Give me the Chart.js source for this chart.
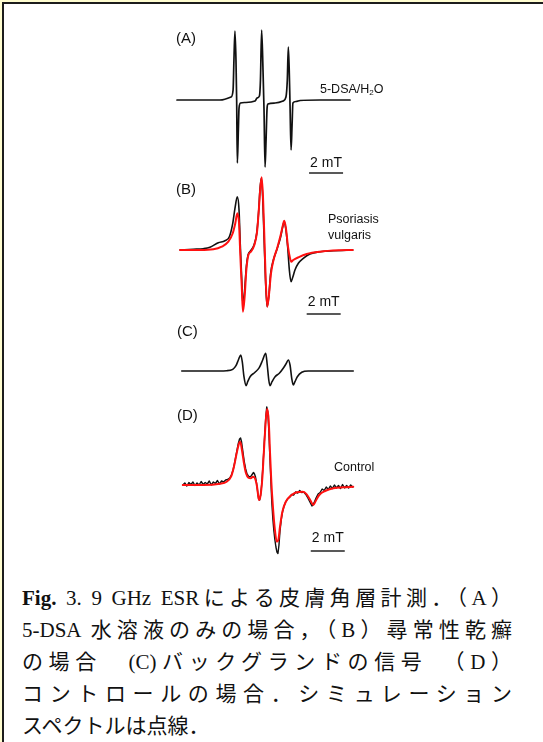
<!DOCTYPE html>
<html lang="ja">
<head>
<meta charset="utf-8">
<title>9 GHz ESR spectra of stratum corneum</title>
<script src="https://cdn.jsdelivr.net/npm/chart.js@4.4.1/dist/chart.umd.min.js"></script>
<style>
  html, body { margin: 0; padding: 0; background: #fffdd0; width: 543px; height: 742px; overflow: hidden; }
  #frame { position: absolute; left: 2px; top: 2px; width: 541px; height: 740px; background: #fff;
           border-top: 2px solid #1c1c1c; border-left: 2px solid #1c1c1c; box-sizing: border-box; }
  canvas { position: absolute; }
  .lbl { position: absolute; font-family: "Liberation Sans", Arial, sans-serif; color: #111; white-space: nowrap; }
  .panel { font-size: 15px; line-height: 18px; }
  .tag { font-size: 12.5px; line-height: 15px; }
  .tag sub { font-size: 8px; vertical-align: -2px; line-height: 0; }
  #caption { position: absolute; left: 22px; top: 582px; width: 490px; color: #111;
             font-family: "Liberation Serif", "Noto Sans CJK JP", serif; font-size: 21px; line-height: 32px; }
  #caption .j { text-align: justify; text-align-last: justify; white-space: nowrap; }
  #caption .l { text-align: left; }
  .fig { font-weight: bold; }
</style>
</head>
<body>
<div id="frame"></div>

<canvas id="chartA" width="240" height="160" style="left:160px;top:20px"></canvas>
<canvas id="chartB" width="240" height="150" style="left:160px;top:170px"></canvas>
<canvas id="chartC" width="240" height="60"  style="left:160px;top:340px"></canvas>
<canvas id="chartD" width="240" height="160" style="left:160px;top:400px"></canvas>

<div class="lbl panel" style="left:176px;top:29px">(A)</div>
<div class="lbl panel" style="left:176px;top:180px">(B)</div>
<div class="lbl panel" style="left:177px;top:322px">(C)</div>
<div class="lbl panel" style="left:177px;top:406px">(D)</div>

<div class="lbl tag" style="left:320px;top:82px">5-DSA/H<sub>2</sub>O</div>
<div class="lbl tag" style="left:328px;top:211px;line-height:16px">Psoriasis<br>vulgaris</div>
<div class="lbl tag" style="left:334px;top:460px">Control</div>

<div id="caption">
  <div class="j"><span class="fig">Fig.</span> 3. 9 GHz ESRによる皮膚角層計測．（A）</div>
  <div class="j">5-DSA 水溶液のみの場合，（B）尋常性乾癬</div>
  <div class="j">の場合　(C)バックグランドの信号　（D）</div>
  <div class="j">コントロールの場合．シミュレーション</div>
  <div class="l">スペクトルは点線．</div>
</div>

<script>
// Magnetic field offset (mT) and first-derivative ESR intensity (a.u.)

// (A) 5-DSA in water
const fieldA = [-5.06,-3.71,-2.53,-1.88,-1.76,-1.71,-1.65,-1.59,-1.55,-1.51,-1.45,-1.41,-1.32,-1.06,-0.47,-0.35,-0.21,-0.15,-0.08,0,0.06,0.12,0.18,0.24,0.29,0.71,1.18,1.35,1.43,1.49,1.55,1.59,1.65,1.71,1.76,1.94,2.18,3.35,5.12];
const esrA   = [0,0,0,0.3,1.0,4.0,6.9,4.0,0,-6.3,-3.0,-0.8,-0.3,-0.25,-0.1,0.2,0.4,2.0,7.0,3.0,-1.0,-6.7,-4.0,-0.8,-0.4,-0.3,-0.1,0.3,2.0,5.3,2.5,-0.5,-5.0,-2.5,-0.3,-0.15,-0.05,0,0];

// (B) psoriasis vulgaris: measured
const fieldB = [-4.88,-4.10,-3.51,-3.12,-2.63,-2.24,-1.98,-1.78,-1.65,-1.51,-1.41,-1.34,-1.25,-1.18,-1.08,-0.98,-0.88,-0.72,-0.53,-0.37,-0.25,-0.18,-0.10,-0.02,0.06,0.14,0.24,0.34,0.45,0.61,0.84,1.04,1.16,1.25,1.35,1.45,1.55,1.65,1.75,1.88,2.08,2.37,2.76,3.35,4.14,5.28];
const esrB   = [0,0.07,0.13,0.27,0.73,0.93,1.33,2.67,4.17,5.33,4.0,0.67,-3.0,-5.5,-4.0,-1.67,-0.5,-0.07,0.5,1.67,4.0,6.0,7.17,5.33,1.33,-2.67,-5.67,-4.67,-2.33,-1.0,0.17,1.33,2.33,2.83,2.0,0.33,-2.0,-3.17,-2.73,-2.0,-1.33,-0.83,-0.4,-0.17,-0.07,0];

// (B) psoriasis vulgaris: simulation
const fieldBsim = [-4.88,-3.71,-2.92,-2.43,-2.04,-1.78,-1.63,-1.51,-1.41,-1.34,-1.25,-1.18,-1.08,-0.98,-0.86,-0.71,-0.51,-0.35,-0.24,-0.16,-0.08,0,0.08,0.16,0.25,0.35,0.47,0.63,0.84,1.04,1.16,1.25,1.35,1.47,1.59,1.66,1.78,2.08,2.57,3.35,4.53,5.28];
const esrBsim   = [0,0,0.07,0.33,0.83,1.67,2.67,3.67,2.67,-0.33,-3.67,-6.17,-4.67,-2.0,-0.5,-0.17,0.5,1.83,4.17,6.17,7.27,5.33,1.33,-3.0,-5.67,-4.5,-2.33,-0.93,0.23,1.5,2.4,2.93,2.17,0.33,-0.83,-1.17,-1.0,-0.73,-0.4,-0.17,-0.03,0];

// (C) background signal
const fieldC = [-4.78,-3.12,-2.14,-1.78,-1.59,-1.45,-1.31,-1.22,-1.12,-1.0,-0.90,-0.76,-0.47,-0.22,-0.02,0.16,0.25,0.34,0.41,0.53,0.71,0.96,1.19,1.35,1.49,1.59,1.69,1.78,1.88,2.02,2.28,2.66,5.31];
const esrC   = [0,0,0.03,0.17,0.53,1.1,1.6,0.93,-0.57,-1.47,-1.07,-0.57,-0.13,0.33,1.1,1.77,0.6,-0.9,-1.47,-1.07,-0.57,-0.23,0.27,0.7,1.1,0.6,-0.73,-1.4,-1.07,-0.57,-0.13,0,0];

// (D) control: measured
const fieldD = [-4.72,-4.60,-4.48,-4.36,-4.24,-4.12,-4.00,-3.88,-3.76,-3.64,-3.52,-3.40,-3.28,-3.16,-3.04,-2.92,-2.80,-2.68,-2.56,-2.44,-2.32,-2.20,
  -2.08,-1.96,-1.86,-1.76,-1.66,-1.56,-1.46,-1.38,-1.32,-1.26,-1.18,-1.10,-1.02,-0.94,-0.86,-0.78,-0.70,-0.62,-0.56,-0.50,-0.44,-0.38,-0.32,-0.26,-0.20,-0.14,-0.08,-0.02,
  0.04,0.10,0.16,0.22,0.28,0.34,0.40,0.46,0.52,0.58,0.64,0.70,0.76,0.82,0.88,0.94,1.00,1.08,1.16,1.24,
  1.32,1.44,1.56,1.68,1.80,1.92,2.04,2.16,2.28,2.40,2.52,2.64,2.76,2.88,3.00,3.12,3.24,3.36,3.48,3.60,3.72,3.84,3.96,4.08,4.20,4.32,4.44,4.56,4.68,4.80,4.92,5.04,5.16,5.28];
const esrD   = [0.0,0.2,-0.1,0.25,0.05,0.3,-0.05,0.2,0.0,0.35,0.05,0.25,0.1,0.4,0.0,0.3,0.15,0.45,0.1,0.4,0.3,0.5,
  0.55,0.7,1.0,1.5,2.3,3.2,4.1,4.6,4.7,4.3,3.3,2.3,1.6,1.1,0.9,0.8,0.9,1.1,1.25,1.1,0.8,0.2,-0.6,-1.4,-1.5,-1.0,0.0,1.5,
  3.2,5.0,6.7,7.8,7.3,5.5,3.0,0.5,-1.8,-3.4,-4.6,-5.5,-6.2,-6.7,-6.85,-6.0,-4.6,-3.4,-2.6,-2.1,
  -1.75,-1.4,-1.25,-0.95,-1.0,-0.7,-0.8,-0.55,-0.75,-0.7,-0.95,-1.3,-1.7,-2.1,-1.8,-1.3,-0.9,-0.75,-0.4,-0.55,-0.2,-0.45,-0.1,-0.35,0.0,-0.3,-0.05,-0.35,0.05,-0.3,-0.05,-0.3,0.0,-0.2];

// (D) control: simulation
const fieldDsim = [-4.72,-3.51,-2.53,-2.14,-1.88,-1.71,-1.55,-1.41,-1.34,-1.24,-1.12,-1.0,-0.86,-0.72,-0.59,-0.47,-0.35,-0.24,-0.14,-0.04,0.04,0.12,0.19,0.25,0.34,0.41,0.49,0.59,0.69,0.81,0.90,1.0,1.14,1.34,1.63,1.98,2.34,2.57,2.81,2.96,3.10,3.31,3.65,4.14,4.72,5.31];
const esrDsim   = [0,0,0.13,0.33,0.83,1.83,3.17,4.17,4.33,3.5,2.17,1.17,0.73,0.67,0.83,0.67,-0.17,-1.5,-1.0,0.67,3.0,5.33,7.0,7.6,6.33,3.33,0.33,-2.33,-4.33,-5.67,-5.5,-4.17,-2.67,-1.67,-1.07,-0.73,-0.67,-0.93,-1.6,-2.0,-1.6,-1.0,-0.6,-0.33,-0.23,-0.17];

// Field span shown in every panel and the scale-bar length
const FIELD_MIN = -6.06, FIELD_MAX = 8.06;
const BAR_MT = 2;

const pts = (xs, ys) => xs.map((x, i) => ({ x, y: ys[i] }));

// Draws the "2 mT" field scale bar using the chart's own x scale
const scaleBar = {
  id: 'scaleBar',
  afterDatasetsDraw(chart, args, opts) {
    const { ctx, scales: { x, y } } = chart;
    const x0 = x.getPixelForValue(opts.start);
    const x1 = x.getPixelForValue(opts.start + BAR_MT);
    const yb = y.getPixelForValue(opts.barAt);
    const yt = y.getPixelForValue(opts.textAt);
    ctx.save();
    ctx.strokeStyle = '#222';
    ctx.lineWidth = 1.3;
    ctx.beginPath();
    ctx.moveTo(x0, yb);
    ctx.lineTo(x1, yb);
    ctx.stroke();
    ctx.fillStyle = '#111';
    ctx.font = '14px "Liberation Sans", Arial, sans-serif';
    ctx.textAlign = 'center';
    ctx.textBaseline = 'middle';
    ctx.fillText(BAR_MT + ' mT', (x0 + x1) / 2, yt);
    ctx.restore();
  }
};

function spectrum(id, datasets, yMin, yMax, bar) {
  return new Chart(document.getElementById(id), {
    type: 'line',
    data: { datasets },
    options: {
      responsive: false,
      animation: false,
      devicePixelRatio: 1,
      layout: { padding: 0 },
      parsing: false,
      elements: { point: { radius: 0 }, line: { borderJoinStyle: 'round', borderCapStyle: 'round' } },
      scales: {
        x: { type: 'linear', min: FIELD_MIN, max: FIELD_MAX, display: false },
        y: { type: 'linear', min: yMin, max: yMax, display: false }
      },
      plugins: {
        legend: { display: false },
        tooltip: { enabled: false },
        scaleBar: bar || false
      }
    },
    plugins: bar ? [scaleBar] : []
  });
}

const measured = (data, w) => ({ data, borderColor: '#111', borderWidth: w || 1.6, cubicInterpolationMode: 'monotone', fill: false });
const simulated = (data) => ({ data, borderColor: '#ff1010', borderWidth: 2, cubicInterpolationMode: 'monotone', fill: false });

spectrum('chartA', [measured(pts(fieldA, esrA), 1.7)], -8, 8,
  { start: 2.71, barAt: -7.3, textAt: -6.3 });

spectrum('chartB', [simulated(pts(fieldBsim, esrBsim)), measured(pts(fieldB, esrB))], -7, 8,
  { start: 2.57, barAt: -6.4, textAt: -5.2 });

spectrum('chartC', [measured(pts(fieldC, esrC))], -2.9, 3.1, null);

spectrum('chartD', [simulated(pts(fieldDsim, esrDsim)),
  { data: pts(fieldD, esrD), borderColor: '#111', borderWidth: 1.4, tension: 0, fill: false }], -7.5, 8.5,
  { start: 2.81, barAt: -6.6, textAt: -5.3 });
</script>
</body>
</html>
